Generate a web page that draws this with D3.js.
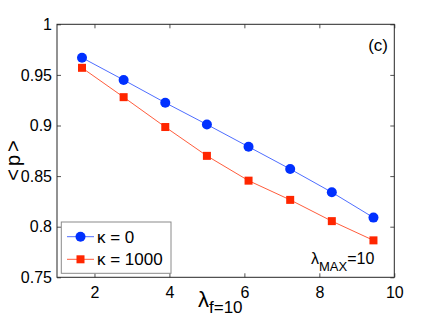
<!DOCTYPE html>
<meta charset="utf-8">
<script src="https://d3js.org/d3.v7.min.js"></script>
<style>
  body { margin: 0; background: #fff; }
  text { font-family: "Liberation Sans", Arial, sans-serif; fill: #000; }
</style>
<div id="chart"></div>
<script>
// data
var lambdaF = [1.667, 2.778, 3.889, 5.0, 6.111, 7.222, 8.333, 9.444];
var pKappa0 = [0.967, 0.945, 0.9225, 0.901, 0.879, 0.857, 0.834, 0.809];
var pKappa1000 = [0.957, 0.928, 0.8985, 0.870, 0.8455, 0.8265, 0.8055, 0.7865];
var xTicks = [2, 4, 6, 8, 10];
var yTicks = [0.75, 0.8, 0.85, 0.9, 0.95, 1];
var seriesNames = ["κ = 0", "κ = 1000"];

var W = 436, H = 328;
var margin = {top: 24.3, right: 41.7, bottom: 50.7, left: 57},
    width = W - margin.left - margin.right,
    height = H - margin.top - margin.bottom;

var svg = d3.select("#chart").append("svg")
    .attr("width", W).attr("height", H);
var g = svg.append("g")
    .attr("transform", "translate(" + margin.left + "," + margin.top + ")");

var x = d3.scaleLinear().domain([1, 10]).range([0, width]);
var y = d3.scaleLinear().domain([0.75, 1]).range([height, 0]);

// axes, ticks pointing inward on all four sides
function styleAxis(sel) {
  sel.select(".domain").remove();
  sel.selectAll(".tick line").attr("stroke", "#262626").attr("stroke-width", 0.8);
  sel.selectAll(".tick text").style("font-size", "16px").attr("fill", "#000");
}
g.append("g").attr("transform", "translate(0," + height + ")")
  .call(d3.axisBottom(x).tickValues(xTicks).tickSize(-4).tickPadding(9).tickFormat(d3.format("d")))
  .call(styleAxis);
g.append("g")
  .call(d3.axisTop(x).tickValues(xTicks).tickSize(-4).tickFormat(""))
  .call(styleAxis);
g.append("g")
  .call(d3.axisLeft(y).tickValues(yTicks).tickSize(-4).tickPadding(5).tickFormat(function(d){ return d3.format("")(+d.toFixed(2)); }))
  .call(styleAxis);
g.append("g").attr("transform", "translate(" + width + ",0)")
  .call(d3.axisRight(y).tickValues(yTicks).tickSize(-4).tickFormat(""))
  .call(styleAxis);

g.append("rect")
  .attr("width", width).attr("height", height)
  .attr("fill", "none").attr("stroke", "#262626").attr("stroke-width", 1);

var series = [
  {name: seriesNames[0], vals: pKappa0, line: "#3a5cff", fill: "#0030ff", shape: "circle"},
  {name: seriesNames[1], vals: pKappa1000, line: "#ff4a26", fill: "#ff2600", shape: "square"}
];

var line = d3.line()
  .x(function(d){ return x(d[0]); })
  .y(function(d){ return y(d[1]); });

function drawMarker(sel, s, cx, cy) {
  if (s.shape === "circle") {
    sel.append("circle").attr("cx", cx).attr("cy", cy).attr("r", 5).attr("fill", s.fill);
  } else {
    sel.append("rect").attr("x", cx - 4).attr("y", cy - 4)
      .attr("width", 8).attr("height", 8).attr("fill", s.fill);
  }
}

series.forEach(function(s) {
  var pts = lambdaF.map(function(v, i){ return [v, s.vals[i]]; });
  g.append("path").datum(pts)
    .attr("d", line).attr("fill", "none")
    .attr("stroke", s.line).attr("stroke-width", 0.9);
  var mg = g.append("g");
  pts.forEach(function(p){ drawMarker(mg, s, x(p[0]), y(p[1])); });
});

// legend
var leg = svg.append("g");
leg.append("rect").attr("x", 61.3).attr("y", 222).attr("width", 109.7).attr("height", 51.3)
  .attr("fill", "#fff").attr("stroke", "#8a8a8a").attr("stroke-width", 1);
series.forEach(function(s, i) {
  var ly = 236.7 + i * 22.6;
  leg.append("line").attr("x1", 67).attr("x2", 94).attr("y1", ly).attr("y2", ly)
    .attr("stroke", s.line).attr("stroke-width", 0.9);
  drawMarker(leg, s, 80.5, ly);
  leg.append("text").attr("x", 97).attr("y", ly + 6)
    .style("font-size", "17px").text(s.name);
});

// panel tag
svg.append("text").attr("x", 388).attr("y", 51).attr("text-anchor", "end")
  .style("font-size", "17px").text("(c)");

// lambda_MAX annotation
var ann = svg.append("text").attr("x", 311).attr("y", 264).style("font-size", "16px");
ann.append("tspan").text("λ");
ann.append("tspan").attr("dy", 7).style("font-size", "13px").text("MAX");
ann.append("tspan").attr("dy", -7).text("=10");

// axis labels
var xl = svg.append("text").attr("x", 198).attr("y", 307).style("font-size", "22px");
xl.append("tspan").text("λ");
xl.append("tspan").attr("dy", 6).style("font-size", "17px").text("f=10");

svg.append("text")
  .attr("transform", "translate(19.5,159) rotate(-90)")
  .attr("text-anchor", "middle")
  .style("font-size", "20px").style("letter-spacing", "3px").text("<p>");
</script>
